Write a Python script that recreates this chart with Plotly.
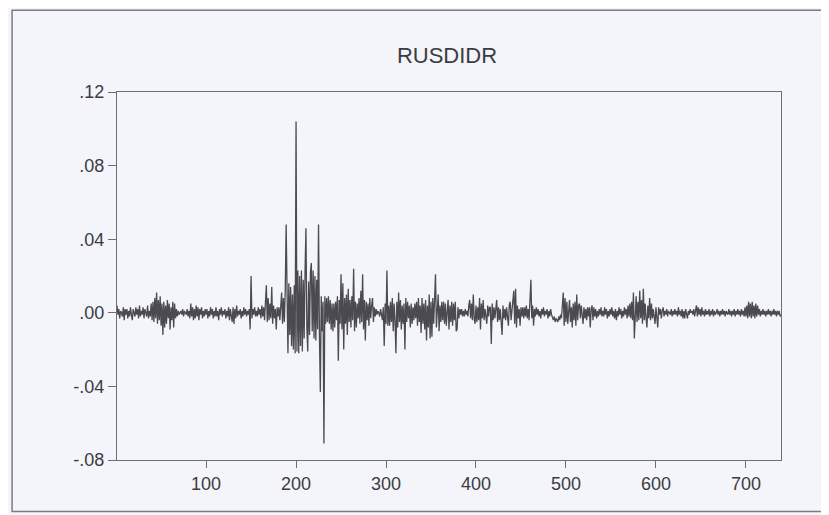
import numpy as np
import plotly.graph_objects as go

rusdidr_milli = [
    4, -1, 2, -3, 1, 0, -2, 3, -4, 2,
    -1, 2, -3, 1, -2, 3, -1, -4, 2, 0,
    -2, 3, -1, 2, -3, 4, -2, 1, -1, 3,
    -3, 2, 0, -2, 4, -3, 1, -2, 5, -4,
    6, -5, 8, -3, 11, -6, 7, -4, 9, -7,
    5, -12, 6, -8, 4, -6, 7, -3, 5, -9,
    3, -4, 6, -8, 5, -3, 2, -2, 1, -1,
    0, 1, -1, 2, -2, 1, 0, -1, 2, -2,
    1, -3, 5, -2, 3, -4, 2, -3, 4, -2,
    3, -4, 2, -1, 3, -3, 1, -2, 2, -1,
    2, -3, 1, -2, 3, -1, 2, -3, 1, -2,
    3, -2, 1, -4, 2, -1, 3, -2, 1, -1,
    2, -3, 1, -2, 3, -4, 2, -1, -5, 3,
    -6, 2, -3, 4, -2, 1, -1, 2, -3, 1,
    -2, 3, -1, 2, -2, 1, -1, 2, -9, 20,
    -3, 2, -1, 3, -2, 1, -2, 3, -1, 2,
    -3, 4, -2, 3, -4, 6, 15, -5, 8, -4,
    5, -3, 14, -6, 4, -3, 2, -9, 3, -2,
    3, -4, 6, 11, -6, 8, -5, 12, 48, -10,
    -22, 16, -12, 14, -18, 10, -20, 15, -22, 104,
    -21, 23, -22, 20, -18, 23, -21, 18, -14, 22,
    46, -8, -21, 17, -12, 22, 27, -10, 23, -14,
    20, -15, 18, -9, 48, -12, -43, 9, -10, 6,
    -71, 9, -6, 8, -5, 9, -6, 7, -9, 5,
    -10, 5, -8, 6, -4, 9, -26, 7, -6, 21,
    -9, 16, -20, 8, -6, 10, -12, 13, -5, 7,
    -8, 9, -4, 24, -10, 6, -8, 5, -3, 8,
    -6, 12, -5, 21, -9, 7, -15, 6, -4, 5,
    -7, 8, -3, 4, 8, -5, 3, -2, 2, -1,
    1, 0, -2, 2, -1, -4, 3, -18, 5, -6,
    23, -7, 4, -7, 6, -5, 8, -10, 5, -4,
    -22, 6, -8, 11, -5, 7, -9, 4, -6, 5,
    -20, 8, -5, 6, -3, 4, -8, 5, -6, 3,
    -4, 5, -3, 6, -7, 8, -5, 4, -11, 8,
    -6, 5, -9, 7, -15, 4, -8, 10, -14, 6,
    -13, 8, -6, 5, 21, -8, 6, 10, -10, 4,
    -5, 6, -4, 6, -6, 5, -7, 3, 7, -9,
    4, -5, 6, -7, 5, -4, 6, -10, -9, 3,
    -3, 2, -1, 2, -2, 1, -2, 2, -1, 1,
    -2, 4, 7, -3, 5, -4, 10, -3, -6, 4,
    -5, 3, -4, 8, -9, 5, -3, 7, -4, 2,
    -3, -6, 4, -2, 3, 3, -17, 5, -4, 3,
    -3, 4, 7, -5, 3, -4, 2, -5, -12, 4,
    -3, 2, -4, 3, -5, -7, 4, 6, -4, 3,
    5, 12, -6, 13, -8, 4, -3, 2, -7, 3,
    -2, 3, -3, 3, -2, 4, -3, 2, -4, 5,
    18, -3, 4, -7, 2, -2, 3, -1, 2, -2,
    1, -3, 2, -1, 3, -2, 1, -1, 2, -3,
    1, -2, 2, -1, -3, -4, -2, -5, -3, -4,
    -5, -2, -4, -1, -3, 4, 11, -7, 8, -5,
    6, -6, 4, 7, -5, 3, -8, 5, -4, 6,
    -7, 10, -4, 4, 5, -3, 4, -2, -6, 3,
    -3, 2, -4, 3, -2, 3, -8, 2, 4, -4,
    3, -2, 2, -3, 1, -2, 2, -1, 3, -2,
    1, -2, 3, -1, 2, -3, 1, -2, 2, -1,
    3, -2, 1, -3, 2, -4, 1, -2, 3, -1,
    2, -3, 1, -2, 3, -1, 2, -3, 4, -2,
    5, -3, 6, -4, 11, -14, 4, 9, -5, 6,
    -4, 12, -3, 7, -6, 13, -4, 5, -3, -8,
    4, -3, 8, -4, 5, -3, 2, -4, -6, 3,
    -2, -8, 3, -1, 2, -3, 1, 3, -2, 1,
    -1, 2, -2, 1, 0, -1, 2, -2, 1, -1,
    2, -1, 1, -2, 3, -1, 1, -2, 2, -3,
    1, -3, 2, -2, -3, 1, -1, 2, 0, 1,
    -1, 2, -2, 1, 4, -2, 3, -1, 2, -2,
    3, -1, 1, -2, 2, -1, 1, -1, 2, -2,
    1, -1, 2, -2, 1, -1, 0, 2, -1, 1,
    -2, 1, -1, 2, -1, 1, -2, 1, 0, -1,
    2, -1, 1, -2, 1, -1, 2, -2, 1, -1,
    2, -1, 1, -2, 2, -1, 1, -2, 3, -2,
    4, -3, 6, -2, 5, -3, 6, -2, 4, -3,
    5, -2, 4, -1, 2, -2, 1, -1, 2, -1,
    1, -2, 1, -1, 2, -1, 1, -2, 1, -1,
    2, -1, 1, -2, 1, -1, 1, -2, -1,
]

rusdidr = np.array(rusdidr_milli) / 1000.0
obs = np.arange(1, len(rusdidr) + 1)

x_tickvals = [100, 200, 300, 400, 500, 600, 700]
y_tickvals = [-0.08, -0.04, 0.0, 0.04, 0.08, 0.12]
y_ticktext = ["-.08", "-.04", ".00", ".04", ".08", ".12"]

title_text = "RUSDIDR"

BG = "#f3f5fa"
LINE = "#4a4a50"
AXIS = "#6e6e72"
TEXT = "#3c3c40"
FONT = "Liberation Sans, Arial, sans-serif"

fig = go.Figure()
fig.add_trace(go.Scatter(
    x=obs, y=rusdidr, mode="lines",
    line=dict(color=LINE, width=1.3),
    showlegend=False, hoverinfo="skip",
))

fig.update_layout(
    width=829, height=515,
    margin=dict(l=109, r=56, t=84, b=63),
    paper_bgcolor=BG, plot_bgcolor=BG,
    font=dict(family=FONT, size=18, color=TEXT),
    title=dict(text=title_text, x=0.5296, xanchor="center",
               y=0.9087, yanchor="middle",
               font=dict(family=FONT, size=22, color=TEXT)),
    showlegend=False,
)

fig.update_xaxes(
    range=[1, len(rusdidr)], tickvals=x_tickvals,
    showgrid=False, zeroline=False,
    showline=True, linecolor=AXIS, linewidth=1, mirror=True,
    ticks="outside", ticklen=7, tickcolor=AXIS, tickwidth=1,
    tickfont=dict(family=FONT, size=18, color=TEXT),
)
fig.update_yaxes(
    range=[-0.08, 0.12], tickvals=y_tickvals, ticktext=y_ticktext,
    showgrid=False, zeroline=False,
    showline=True, linecolor=AXIS, linewidth=1, mirror=True,
    ticks="outside", ticklen=8, tickcolor=AXIS, tickwidth=1,
    tickfont=dict(family=FONT, size=18, color=TEXT),
)

# outer frame of the scanned figure
fig.add_shape(type="rect", xref="paper", yref="paper",
              x0=-0.158, x1=1.2, y0=-0.14, y1=1.222,
              line=dict(color="#7a7c82", width=1.5), fillcolor="rgba(0,0,0,0)",
              layer="below")

fig.write_html("out.html")
